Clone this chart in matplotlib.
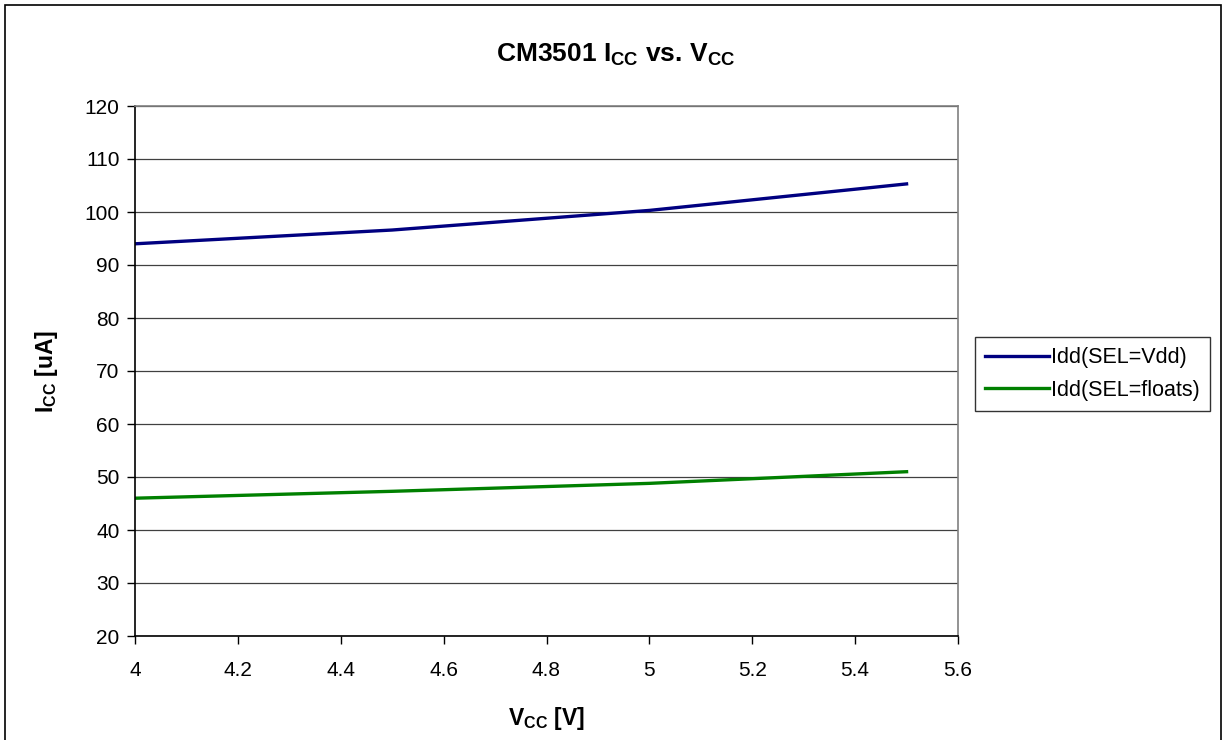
import matplotlib
matplotlib.use("Agg")
import matplotlib.pyplot as plt
from matplotlib.patches import Rectangle

# data
vcc = [4.0, 4.5, 5.0, 5.5]
idd_sel_vdd = [94.0, 96.6, 100.3, 105.3]
idd_sel_floats = [46.0, 47.3, 48.8, 51.0]
series_names = ["Idd(SEL=Vdd)", "Idd(SEL=floats)"]
x_ticks = [4, 4.2, 4.4, 4.6, 4.8, 5, 5.2, 5.4, 5.6]
x_labels = ["4", "4.2", "4.4", "4.6", "4.8", "5", "5.2", "5.4", "5.6"]
y_ticks = list(range(20, 121, 10))

plt.rcParams["font.family"] = ["Liberation Sans", "DejaVu Sans"]
plt.rcParams["mathtext.fontset"] = "custom"
plt.rcParams["mathtext.rm"] = "Liberation Sans"
plt.rcParams["mathtext.bf"] = "Liberation Sans:bold"

W, H = 1225, 740
fig = plt.figure(figsize=(W / 100, H / 100), dpi=100)
ax = fig.add_axes([135 / W, 1 - 636 / H, (958 - 135) / W, (636 - 106) / H])

# outer chart border
fig.patches.append(Rectangle((5 / W, -0.01), (1221 - 5) / W, 1 - 5 / H + 0.01,
                             transform=fig.transFigure, fill=False,
                             edgecolor="black", linewidth=1.2))

ax.plot(vcc, idd_sel_vdd, color="#000080", linewidth=2.4, label=series_names[0])
ax.plot(vcc, idd_sel_floats, color="#008000", linewidth=2.4, label=series_names[1])

ax.set_xlim(4, 5.6)
ax.set_ylim(20, 120)
ax.set_xticks(x_ticks)
ax.set_xticklabels(x_labels)
ax.set_yticks(y_ticks)
ax.yaxis.grid(True, color="#404040", linewidth=0.9)
ax.set_axisbelow(True)
for s in ax.spines.values():
    s.set_color("#808080")
    s.set_linewidth(1.2)
ax.spines["left"].set_color("black")
ax.spines["bottom"].set_color("black")
ax.tick_params(axis="both", direction="out", length=6, width=1, labelsize=15,
               color="black")
ax.tick_params(axis="y", pad=5)
ax.tick_params(axis="x", pad=12)

fig.text(616 / W, 1 - 55 / H, r"CM3501 $\mathbf{I_{CC}}$ vs. $\mathbf{V_{CC}}$",
         ha="center", va="center", fontsize=19, fontweight="bold")
fig.text(546 / W, 1 - 718 / H, r"$\mathbf{V_{CC}}$ [V]",
         ha="center", va="center", fontsize=16.5, fontweight="bold")
fig.text(46 / W, 1 - 371 / H, r"$\mathbf{I_{CC}}$ [uA]", rotation=90,
         ha="center", va="center", fontsize=16.5, fontweight="bold")

leg = ax.legend(loc="center left", bbox_to_anchor=(975 / W, 1 - 374 / H),
                bbox_transform=fig.transFigure, fontsize=15.5, frameon=True,
                fancybox=False, edgecolor="black", handlelength=3.0,
                handletextpad=0.1, borderpad=0.45, labelspacing=0.55,
                borderaxespad=0)
leg.get_frame().set_linewidth(1.0)

fig.savefig("out.png", dpi=100)
